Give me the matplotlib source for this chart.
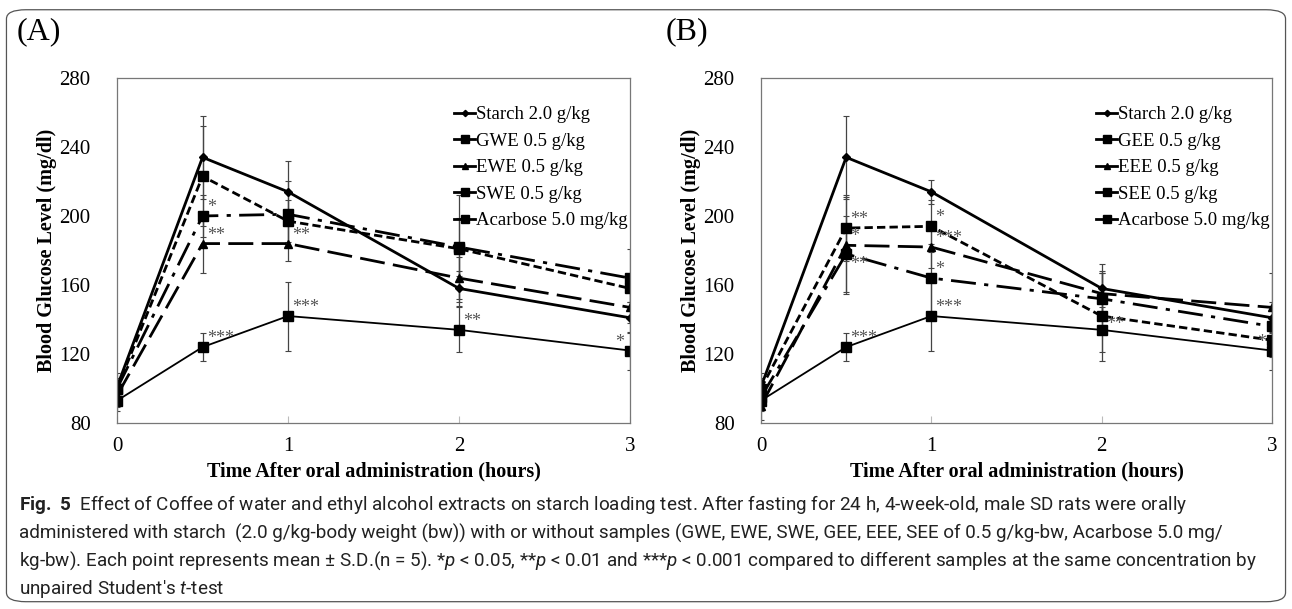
import matplotlib
matplotlib.use("Agg")
import matplotlib.pyplot as plt
from matplotlib.lines import Line2D
from matplotlib.patches import FancyBboxPatch

plt.rcParams['font.family'] = ['Liberation Serif', 'DejaVu Serif']
plt.rcParams['mathtext.fontset'] = 'custom'
plt.rcParams['mathtext.rm'] = 'Roboto'
plt.rcParams['mathtext.it'] = 'Roboto:italic'
plt.rcParams['mathtext.bf'] = 'Roboto:bold'

# time points (hours)
hours = [0, 0.5, 1, 2, 3]

# panel A - water extracts
starch_a = [101, 234, 214, 158, 141]
starch_a_sd = [8, 24, 18, 10, 9]
gwe = [100, 223, 197, 181, 158]
gwe_sd = [6, 29, 12, 31, 8]
ewe = [96, 184, 184, 164, 147]
ewe_sd = [7, 17, 10, 12, 9]
swe = [100, 200, 201, 182, 164]
swe_sd = [6, 12, 19, 17, 17]
acarbose = [93, 124, 142, 134, 122]
acarbose_sd = [6, 8, 20, 13, 11]

# panel B - ethanol extracts
starch_b = [101, 234, 214, 158, 141]
starch_b_sd = [8, 24, 7, 14, 9]
gee = [100, 193, 194, 142, 128]
gee_sd = [6, 19, 15, 26, 10]
eee = [90, 183, 182, 155, 147]
eee_sd = [8, 28, 12, 12, 20]
see = [95, 178, 164, 152, 136]
see_sd = [7, 22, 20, 15, 12]

# significance marks: (x, series value, text, side)
stars_a = [(0.5, 200, '*', 'r'), (0.5, 184, '**', 'r'), (1, 184, '**', 'r'),
           (0.5, 124, '***', 'r'), (1, 142, '***', 'r'), (2, 134, '**', 'r'),
           (3, 122, '*', 'l')]
stars_b = [(0.5, 193, '**', 'r'), (0.5, 183, '*', 'r'), (0.5, 167, '**', 'r'),
           (1, 194, '*', 'r'), (1, 182, '***', 'r'), (1, 164, '*', 'r'),
           (0.5, 124, '***', 'r'), (1, 142, '***', 'r'), (2, 132, '**', 'r'),
           (3, 122, '*', 'l')]

styles = [
    dict(ls='-', lw=2.0, marker='D', ms=4),
    dict(ls=(0, (3, 1.5)), lw=2.0, marker='s', ms=7),
    dict(ls=(0, (9, 3)), lw=2.0, marker='^', ms=6),
    dict(ls=(0, (9, 3, 1.5, 3)), lw=2.0, marker='s', ms=7),
    dict(ls='-', lw=1.3, marker='s', ms=7),
]


def draw_panel(ax, series, labels, stars):
    for (y, sd), st in zip(series, styles):
        ax.errorbar(hours, y, yerr=sd, color='black', ecolor='#444444',
                    elinewidth=0.9, capsize=2, capthick=0.8, **st)
    ax.set_xlim(0, 3)
    ax.set_ylim(80, 280)
    ax.set_xticks([0, 1, 2, 3])
    ax.set_yticks(range(80, 281, 40))
    ax.tick_params(axis='y', labelsize=15, length=0, pad=19)
    ax.tick_params(axis='x', labelsize=15, direction='in', length=5,
                   color='#bbbbbb', pad=10)
    for s in ax.spines.values():
        s.set_color('#777777')
        s.set_linewidth(0.9)
    ax.set_ylabel('Blood Glucose Level (mg/dl)', fontsize=14.5,
                  fontweight='bold', labelpad=2)
    ax.set_xlabel('Time After oral administration (hours)', fontsize=14.5,
                  fontweight='bold', labelpad=4)
    for x, v, txt, side in stars:
        if side == 'r':
            ax.annotate(txt, (x, v), xytext=(3, 0), textcoords='offset points',
                        fontsize=13, color='#555555', va='bottom', ha='left')
        else:
            ax.annotate(txt, (x, v), xytext=(-4, 0), textcoords='offset points',
                        fontsize=13, color='#555555', va='bottom', ha='right')
    handles = [Line2D([], [], color='black', lw=2, marker=st['marker'],
                      ms=st['ms'] * 0.8) for st in styles]
    ax.legend(handles, labels, loc='upper right', frameon=False, fontsize=13.5,
              handlelength=1.1, handletextpad=0.05, labelspacing=0.5,
              borderaxespad=0, bbox_to_anchor=(1.01, 0.94))


fig = plt.figure(figsize=(12.92, 6.09), dpi=100)
ax1 = fig.add_axes([0.0906, 0.3054, 0.397, 0.5666])
ax2 = fig.add_axes([0.589, 0.3054, 0.3955, 0.5666])

draw_panel(ax1, [(starch_a, starch_a_sd), (gwe, gwe_sd), (ewe, ewe_sd),
                 (swe, swe_sd), (acarbose, acarbose_sd)],
           ['Starch 2.0 g/kg', 'GWE 0.5 g/kg', 'EWE 0.5 g/kg', 'SWE 0.5 g/kg',
            'Acarbose 5.0 mg/kg'], stars_a)
draw_panel(ax2, [(starch_b, starch_b_sd), (gee, gee_sd), (eee, eee_sd),
                 (see, see_sd), (acarbose, acarbose_sd)],
           ['Starch 2.0 g/kg', 'GEE 0.5 g/kg', 'EEE 0.5 g/kg', 'SEE 0.5 g/kg',
            'Acarbose 5.0 mg/kg'], stars_b)

fig.text(0.013, 0.948, '(A)', fontsize=23, va='center')
fig.text(0.515, 0.948, '(B)', fontsize=23, va='center')

# outer frame
frame = FancyBboxPatch((0.005, 0.012), 0.99, 0.972,
                       boxstyle='round,pad=0,rounding_size=0.015',
                       transform=fig.transFigure, fill=False,
                       edgecolor='#555555', lw=0.9)
fig.patches.append(frame)

caption = [
    r'$\bf{Fig.\ 5}$  Effect of Coffee of water and ethyl alcohol extracts on starch loading test. After fasting for 24 h, 4-week-old, male SD rats were orally',
    r'administered with starch  (2.0 g/kg-body weight (bw)) with or without samples (GWE, EWE, SWE, GEE, EEE, SEE of 0.5 g/kg-bw, Acarbose 5.0 mg/',
    r'kg-bw). Each point represents mean $\pm$ S.D.(n = 5). *$\it{p}$ < 0.05, **$\it{p}$ < 0.01 and ***$\it{p}$ < 0.001 compared to different samples at the same concentration by',
    r"unpaired Student's $\it{t}$-test",
]
for i, line in enumerate(caption):
    fig.text(0.015, 1 - (505 + 28 * i) / 609, line, fontsize=13.6,
             family=['Roboto', 'DejaVu Sans'], va='center', color='#222222')

fig.savefig('out.png', dpi=100)
